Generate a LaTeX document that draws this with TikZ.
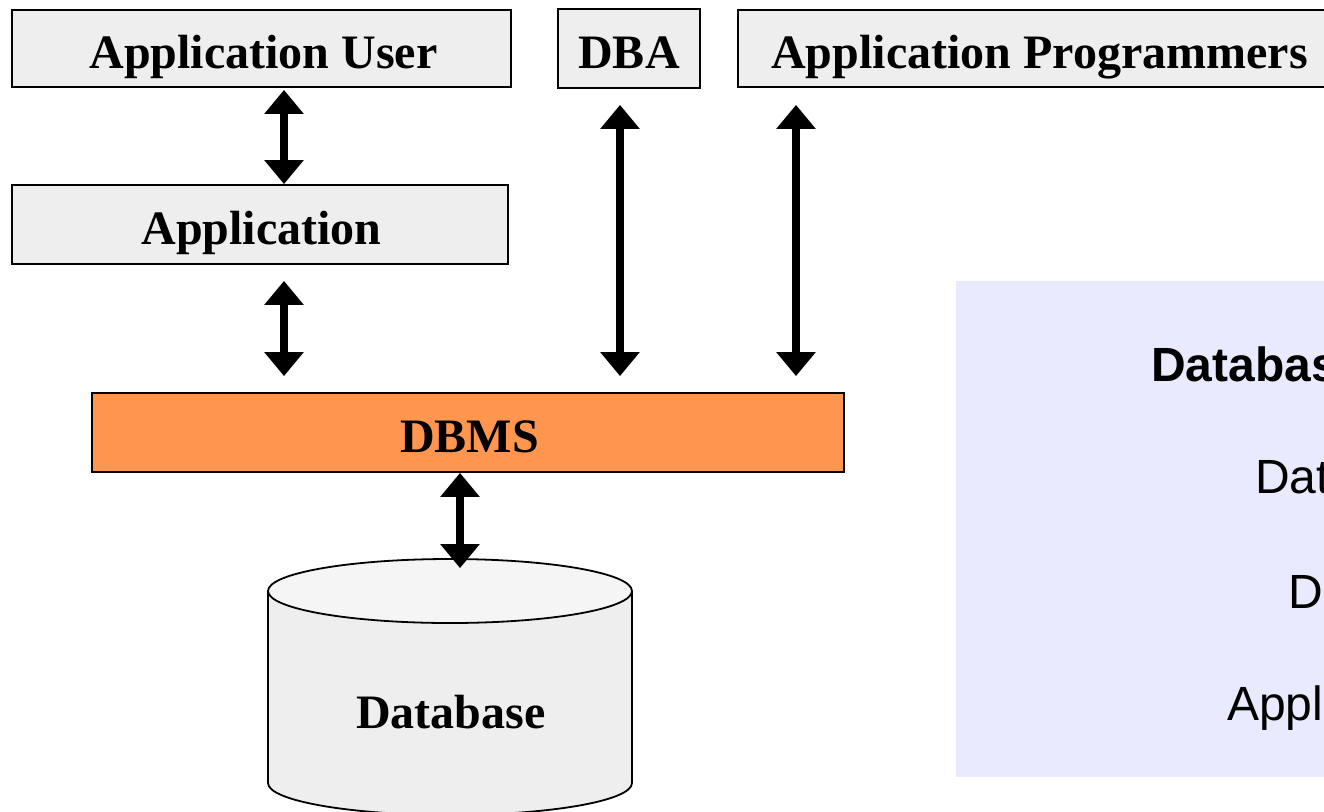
\documentclass[tikz,border=0pt]{standalone}
\usepackage{fontspec}
\usepackage{xcolor}
\setmainfont{Liberation Serif}
\setsansfont{Liberation Sans}
\usetikzlibrary{arrows.meta,shapes.geometric}
\definecolor{boxgrey}{HTML}{EEEEEE}
\definecolor{dbtopgrey}{HTML}{F5F5F5}
\definecolor{dbmsorange}{HTML}{FF9650}
\definecolor{panelblue}{HTML}{EAEAFF}
\tikzset{
    grey-box/.style = {draw=black, fill=boxgrey, line width=1.8pt, rectangle, inner sep=0pt, text height=40pt, text depth=0pt, font=\fontsize{48}{56}\selectfont\bfseries},
    orange-box/.style = {grey-box, fill=dbmsorange},
    double-arrow/.style = {line width=8pt, {Triangle[width=38pt,length=24pt]}-{Triangle[width=38pt,length=24pt]}},
    panel-text/.style = {anchor=base west, inner sep=0pt, font=\fontsize{48}{56}\selectfont\sffamily},
}

\begin{document}
\begin{tikzpicture}[x=1pt,y=-1pt]
\useasboundingbox (0,0) rectangle (1324,811);
\clip (0,0) rectangle (1324,811);
\fill[white] (0,0) rectangle (1324,811);
\node [grey-box, minimum width=499pt, minimum height=77pt] (app-user) at (261.5,48.5) {\hspace*{4pt}Application User};
\node [grey-box, minimum width=142pt, minimum height=79pt] (dba) at (629,48.5) {DBA};
\node [grey-box, minimum width=603pt, minimum height=77pt] (programmers) at (1039.5,48.5) {Application Programmers};
\node [grey-box, minimum width=496pt, minimum height=79pt] (app) at (260,224.5) {\hspace*{3pt}Application};
\node [orange-box, minimum width=752pt, minimum height=79pt] (dbms) at (468,432.5) {\hspace*{3pt}DBMS};
% database cylinder, cut off by the lower edge
\fill [boxgrey] (268,591) -- (268,783) arc[start angle=180, end angle=360, x radius=182pt, y radius=32pt] -- (632,591) -- cycle;
\draw [line width=1.8pt] (268,591) -- (268,783) arc[start angle=180, end angle=360, x radius=182pt, y radius=32pt] -- (632,591);
\node [draw=black, fill=dbtopgrey, line width=1.8pt, ellipse, inner sep=0pt, minimum width=364pt, minimum height=64pt] (db-top) at (450,591) {};
\node [font=\fontsize{48}{56}\selectfont\bfseries, inner sep=0pt] (db) at (451,712) {Database};
% arrow columns
\coordinate (col-a) at (284,0);
\coordinate (col-b) at (620,0);
\coordinate (col-c) at (796,0);
\coordinate (col-d) at (460,0);
\draw [double-arrow, shorten <=2pt, shorten >=0pt] (app-user.south -| col-a) -- (app.north -| col-a);
\draw [double-arrow, shorten <=16pt, shorten >=16pt] (app.south -| col-a) -- (dbms.north -| col-a);
\draw [double-arrow, shorten <=16pt, shorten >=16pt] (dba.south -| col-b) -- (dbms.north -| col-b);
\draw [double-arrow, shorten <=17pt, shorten >=16pt] (programmers.south -| col-c) -- (dbms.north -| col-c);
\draw [double-arrow, shorten <=0pt, shorten >=-10pt] (dbms.south -| col-d) -- (db-top.north -| col-d);
% legend panel
\fill [panelblue] (956,281) rectangle (1324,777);
\node [panel-text, font=\fontsize{48}{56}\selectfont\sffamily\bfseries] (legend-title) at (1151,381) {Databas};
\node [panel-text] (legend-a) at (1255,493) {Dat};
\node [panel-text] (legend-b) at (1288,608) {D};
\node [panel-text] (legend-c) at (1227,720) {Appl};
\end{tikzpicture}
\end{document}
